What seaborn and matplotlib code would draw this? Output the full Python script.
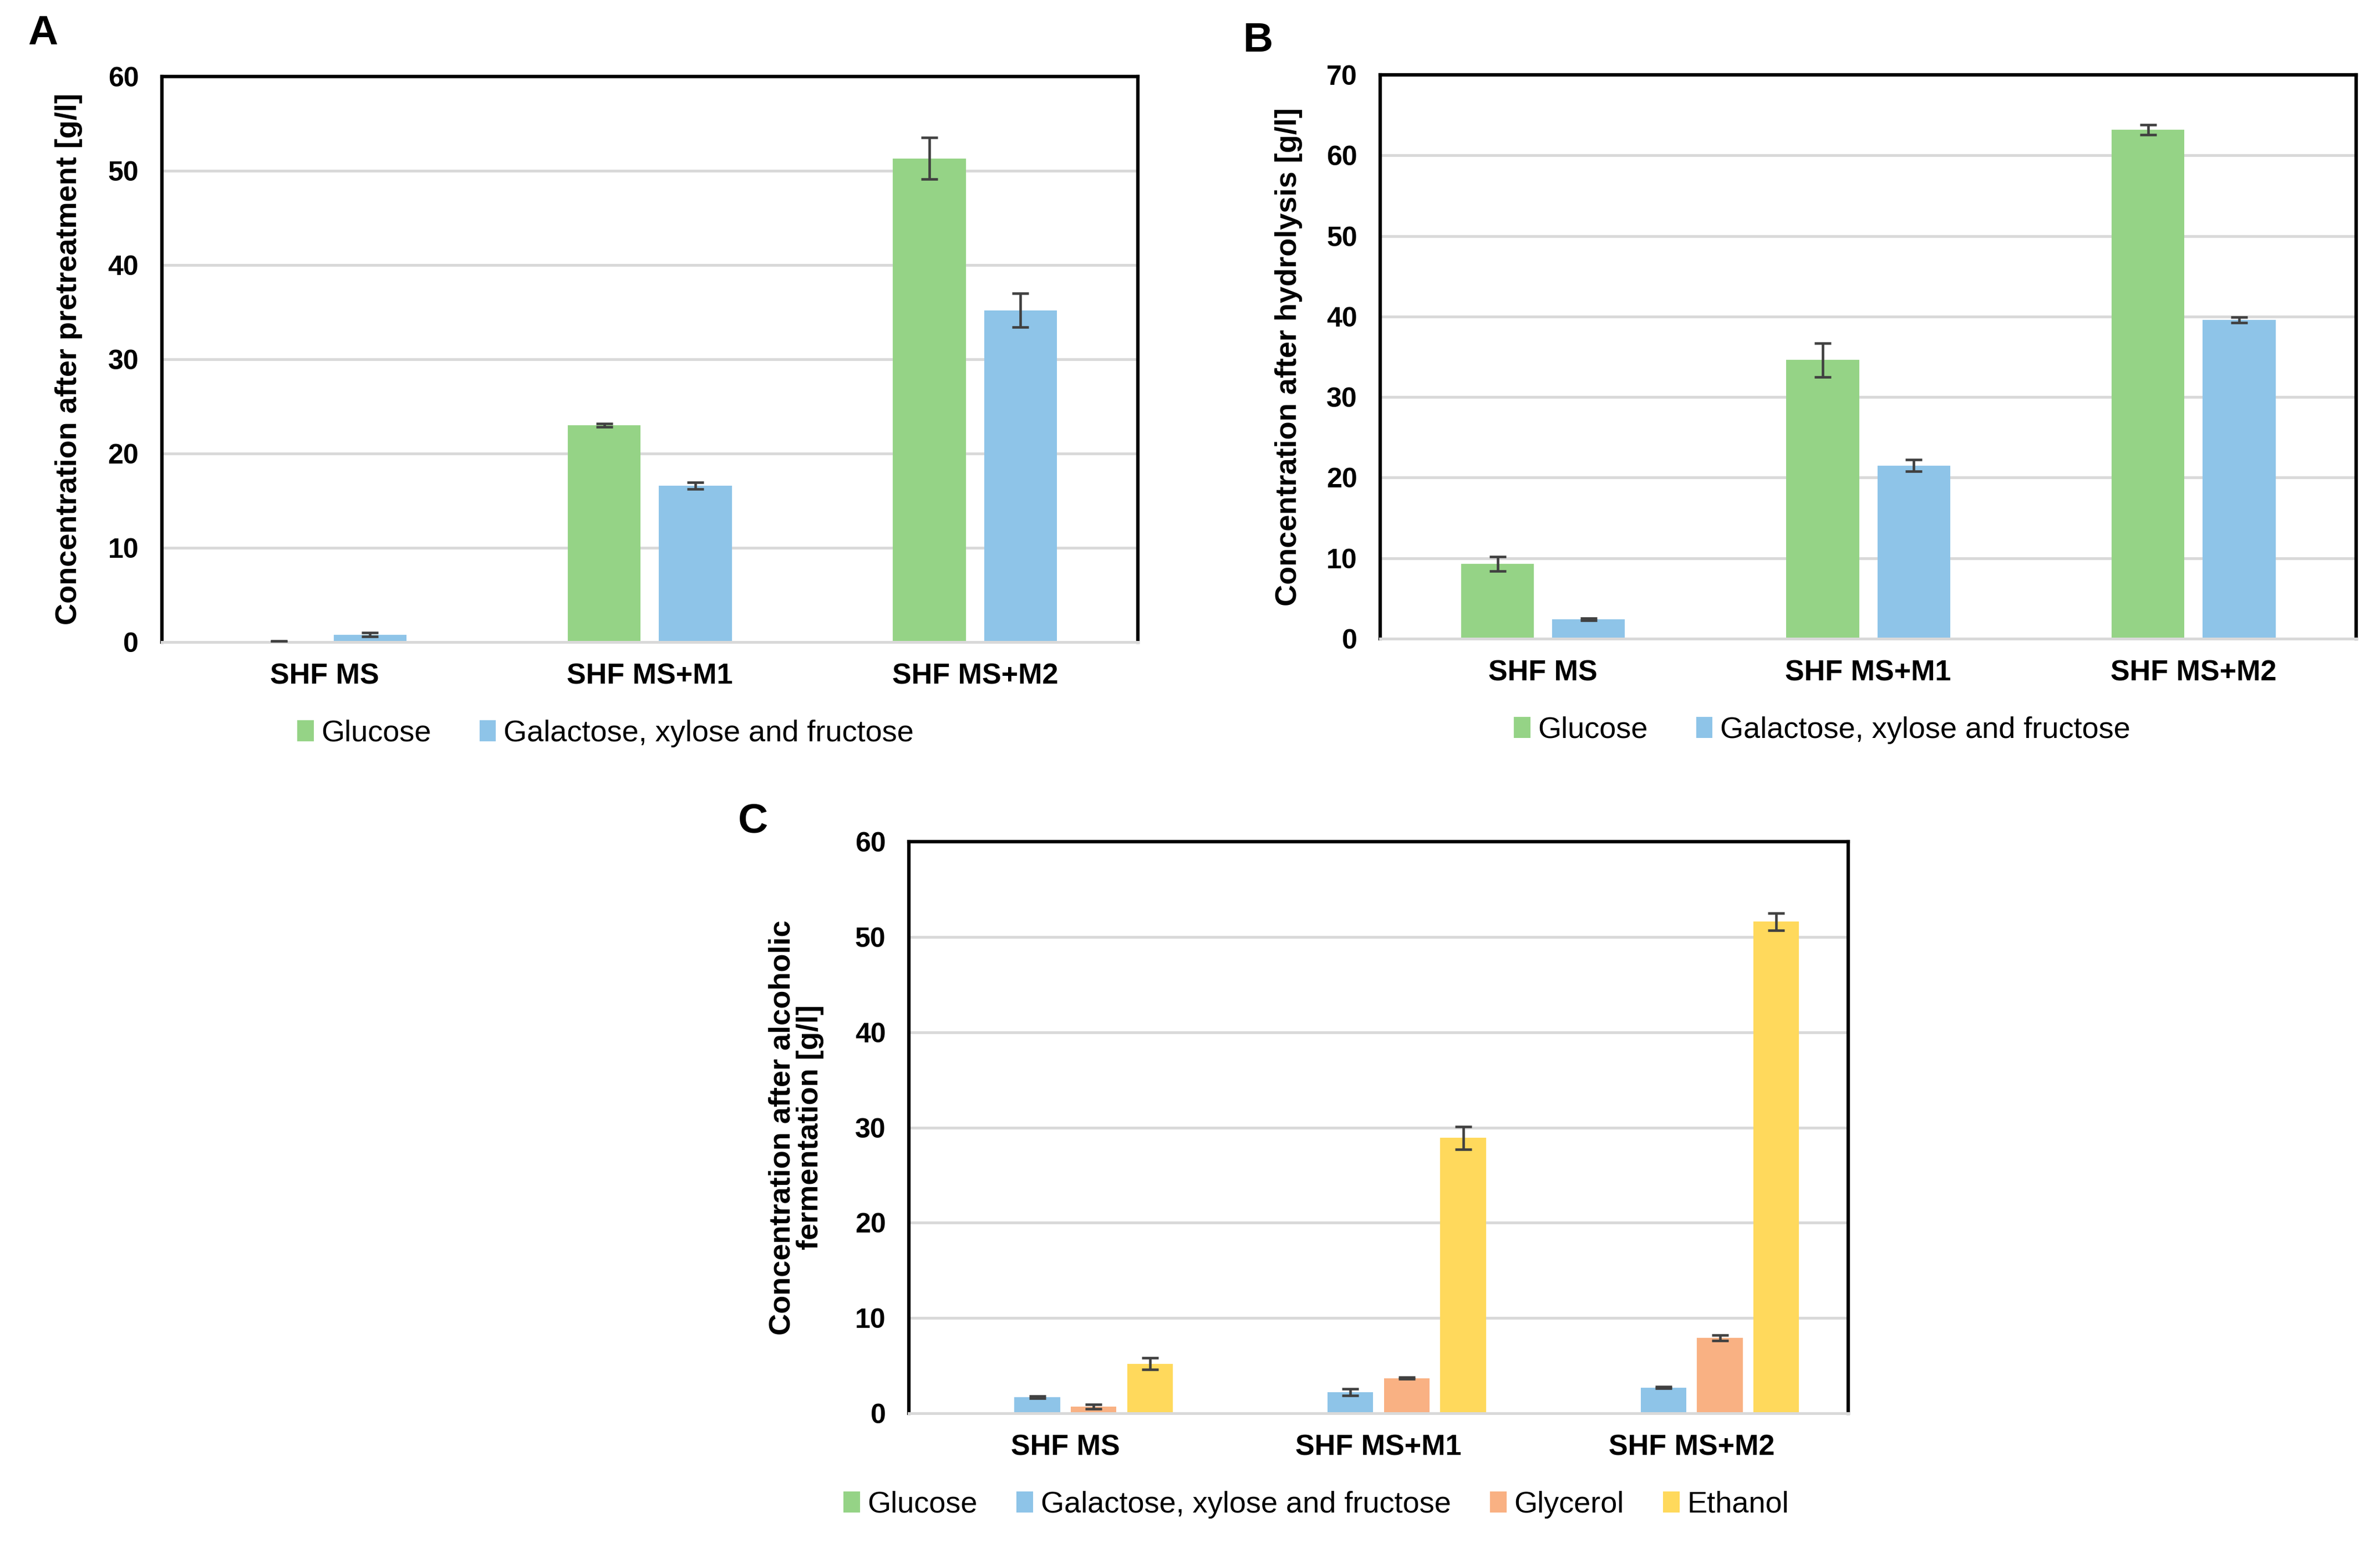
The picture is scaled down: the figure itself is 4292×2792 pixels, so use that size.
import matplotlib
matplotlib.use("Agg")
import matplotlib.pyplot as plt
import seaborn as sns
import pandas as pd
import numpy as np
from matplotlib.patches import Patch

sns.set_theme(style="white")
plt.rcParams['font.family'] = ['Liberation Sans', 'DejaVu Sans']

categories = ["SHF MS", "SHF MS+M1", "SHF MS+M2"]

# Panel A: after pretreatment
a_glucose = [0.1, 23.0, 51.3]
a_glucose_err = [0.05, 0.15, 2.2]
a_gal = [0.8, 16.6, 35.2]
a_gal_err = [0.2, 0.35, 1.8]

# Panel B: after hydrolysis
b_glucose = [9.3, 34.6, 63.2]
b_glucose_err = [0.9, 2.1, 0.6]
b_gal = [2.4, 21.5, 39.6]
b_gal_err = [0.15, 0.7, 0.35]

# Panel C: after alcoholic fermentation
c_glucose = [0.0, 0.0, 0.0]
c_glucose_err = [0.0, 0.0, 0.0]
c_gal = [1.7, 2.2, 2.7]
c_gal_err = [0.12, 0.35, 0.08]
c_glycerol = [0.7, 3.7, 7.9]
c_glycerol_err = [0.25, 0.1, 0.3]
c_ethanol = [5.2, 28.9, 51.6]
c_ethanol_err = [0.6, 1.2, 0.9]

colors = {"Glucose": "#95D386", "Galactose, xylose and fructose": "#8EC4E8",
          "Glycerol": "#F9B183", "Ethanol": "#FFD95C"}

W, H = 4292, 2792
fig = plt.figure(figsize=(W / 300, H / 300), dpi=300)


def build(series):
    rows = []
    for name, vals, errs in series:
        for c, v, e in zip(categories, vals, errs):
            rows.append({"cat": c, "series": name, "value": v, "err": e})
    return pd.DataFrame(rows)


def panel(rect, series, ymax, ystep, ylabel, width, gap, legend_pos, ncol, label_x, colspace):
    ax = fig.add_axes(rect)
    df = build(series)
    names = [s[0] for s in series]
    sns.barplot(data=df, x="cat", y="value", hue="series", order=categories,
                hue_order=names, palette=colors, saturation=1, width=width, gap=gap,
                errorbar=None, linewidth=0, legend=False, ax=ax, zorder=2)
    for cont, name in zip(ax.containers, names):
        sub = df[df.series == name].set_index("cat").loc[categories]
        for bar, v, e in zip(cont, sub["value"], sub["err"]):
            if e > 0:
                ax.errorbar(bar.get_x() + bar.get_width() / 2, v, yerr=e,
                            fmt="none", ecolor="#404040", elinewidth=1.1,
                            capsize=3.5, capthick=1.1, zorder=3)
    ax.set_ylim(0, ymax)
    ax.set_xlim(-0.5, 2.5)
    ax.set_yticks(np.arange(0, ymax + 0.1, ystep))
    ax.yaxis.grid(True, color="#D9D9D9", linewidth=1.2, zorder=0)
    ax.set_axisbelow(True)
    for s in ["left", "top", "right"]:
        ax.spines[s].set_color("black")
        ax.spines[s].set_linewidth(1.5)
    ax.spines["bottom"].set_color("#D9D9D9")
    ax.spines["bottom"].set_linewidth(1.2)
    ax.tick_params(axis="y", length=0, labelsize=12, pad=10)
    ax.tick_params(axis="x", length=0, labelsize=12.5, pad=9)
    for lab in ax.get_xticklabels() + ax.get_yticklabels():
        lab.set_fontweight("bold")
        lab.set_color("black")
    ax.set_xlabel("")
    ax.set_ylabel(ylabel, fontsize=13, fontweight="bold", color="black",
                  va="center", ha="center", linespacing=1.0)
    ax.yaxis.set_label_coords(label_x, 0.5)
    handles = [Patch(facecolor=colors[n], edgecolor="none", label=n) for n in names]
    leg = fig.legend(handles=handles, loc="center", bbox_to_anchor=legend_pos, ncol=ncol,
                     frameon=False, fontsize=13, handlelength=0.55, handleheight=0.7,
                     handletextpad=0.25, columnspacing=colspace)
    for t in leg.get_texts():
        t.set_color("black")
    return ax


panel([0.068, 0.5852, 0.410, 0.3654],
      [("Glucose", a_glucose, a_glucose_err),
       ("Galactose, xylose and fructose", a_gal, a_gal_err)],
      60, 10, "Concentration after pretreatment [g/l]", 0.56, 0.2, (0.2544, 0.5262), 2, -0.0955, 1.6)

panel([0.580, 0.5874, 0.410, 0.3642],
      [("Glucose", b_glucose, b_glucose_err),
       ("Galactose, xylose and fructose", b_gal, b_gal_err)],
      70, 10, "Concentration after hydrolysis [g/l]", 0.56, 0.2, (0.7656, 0.5283), 2, -0.094, 1.6)

panel([0.3819, 0.0870, 0.3947, 0.3693],
      [("Glucose", c_glucose, c_glucose_err),
       ("Galactose, xylose and fructose", c_gal, c_gal_err),
       ("Glycerol", c_glycerol, c_glycerol_err),
       ("Ethanol", c_ethanol, c_ethanol_err)],
      60, 10, "Concentration after alcoholic\nfermentation [g/l]", 0.72, 0.19, (0.553, 0.028), 4, -0.12, 1.3)

for txt, x, y in [("A", 0.018, 0.9785), ("B", 0.5287, 0.9735), ("C", 0.3164, 0.4692)]:
    fig.text(x, y, txt, fontsize=18, fontweight="bold", color="black",
             ha="center", va="center")

fig.savefig("out.png", dpi=300, facecolor="white")
